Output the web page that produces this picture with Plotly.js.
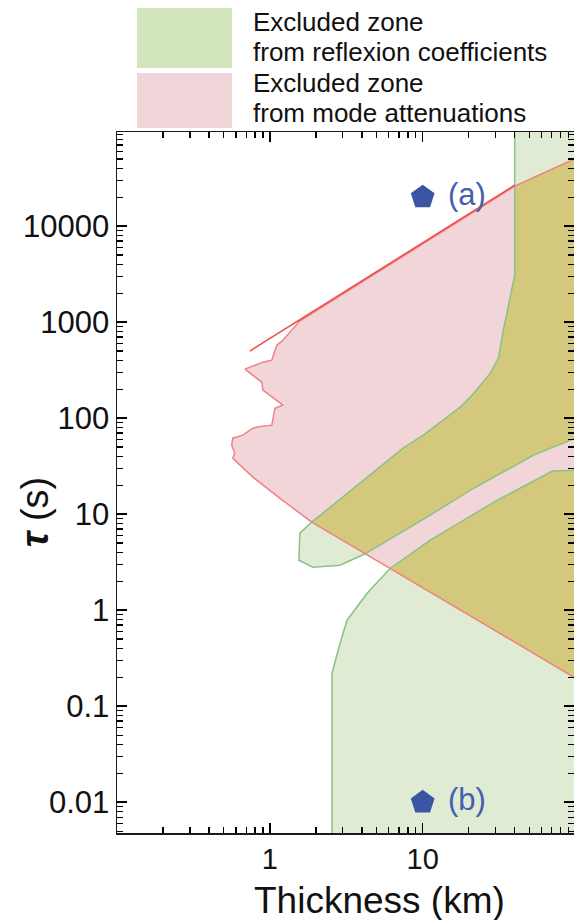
<!DOCTYPE html>
<html><head><meta charset="utf-8">
<script src="https://cdn.plot.ly/plotly-3.0.1.min.js"></script>
<style>html,body{margin:0;padding:0;background:#fff}#chart{width:574px;height:920px}</style>
</head><body><div id="chart"></div>
<script>
// ---- Data (thickness in km, tau in s) ----
// Excluded zone from reflexion coefficients: upper band
const reflexUpperThickness = [40, 40, 33.7, 31.3, 27.7, 21.1, 17.6, 10.1, 7.45, 1.88, 1.57, 1.55, 1.91, 2.88, 4.2, 11.2, 20.5, 53.1, 100, 100];
const reflexUpperTau       = [1e5, 3090, 826, 422, 294, 174, 130, 66.5, 48.7, 8.26, 6.34, 3.32, 2.81, 2.94, 3.87, 9.77, 17.8, 41.2, 62, 1e5];
// Excluded zone from reflexion coefficients: lower band
const reflexLowerThickness = [2.55, 2.55, 2.88, 3.2, 4.33, 6.12, 11.2, 30.8, 70.7, 100, 100];
const reflexLowerTau       = [0.001, 0.221, 0.453, 0.787, 1.5, 2.72, 5.36, 14.0, 28.1, 28.7, 0.001];
// Excluded zone from mode attenuations
const attenThickness = [0.686, 0.90, 1.03, 1.11, 1.2, 1.57, 40, 100, 100, 6.12, 4.2, 1.88, 1.16, 1.0, 0.774, 0.572, 0.589, 0.563, 0.572, 0.665, 0.774, 0.886, 1.03, 1.08, 1.22, 0.90, 0.886, 0.686];
const attenTau       = [324, 383, 402, 576, 634, 1025, 26100, 50700, 0.196, 2.72, 3.87, 8.26, 14.7, 17.8, 24.3, 38.3, 43.2, 52.3, 61.9, 66.5, 78.7, 82.6, 84.6, 127, 137, 196, 237, 324];
// Zones excluded by both criteria
const overlapUpperThickness = [40, 40, 33.7, 31.3, 27.7, 21.1, 17.6, 10.1, 7.45, 1.88, 4.2, 11.2, 20.5, 53.1, 100, 100, 40];
const overlapUpperTau       = [26100, 3090, 826, 422, 294, 174, 130, 66.5, 48.7, 8.26, 3.87, 9.77, 17.8, 41.2, 62, 50700, 26100];
const overlapLowerThickness = [6.12, 11.2, 30.8, 70.7, 100, 100, 6.12];
const overlapLowerTau       = [2.72, 5.36, 14.0, 28.1, 28.7, 0.196, 2.72];
// Upper bound line of the attenuation zone
const boundThickness = [0.74, 40];
const boundTau       = [500, 26700];
// Marked cases
const caseThickness = [10, 10];
const caseTau       = [20000, 0.01];
const caseLabels    = ['(a)', '(b)'];
// Tick labels
const xTickVals = [0.1, 1, 10, 100];
const xTickText = ['', '1', '10', ''];
const yTickVals = [0.01, 0.1, 1, 10, 100, 1000, 10000];
const yTickText = ['0.01', '0.1', '1', '10', '100', '1000', '10000'];
const legendLines = ['Excluded zone', 'from reflexion coefficients', 'Excluded zone', 'from mode attenuations'];

// ---- Styling ----
const PINK = '#f1d5d8', GREEN = '#dfecd3', OLIVE = '#d4c87c';
const PINK_EDGE = '#ef8282', GREEN_EDGE = '#88c288', RED = '#f04848', BLUE = '#3b55a5';
const FONT = 'Liberation Sans, Arial, sans-serif';
const X_RANGE = [-1.0, 1.99], Y_RANGE = [-2.32, 4.98];

function minorVals(lo, hi) {
  const v = [];
  for (let d = lo; d <= hi; d++) for (let m = 2; m <= 9; m++) v.push(m * Math.pow(10, d));
  return v;
}
function fillTrace(x, y, color) {
  return {x: x, y: y, type: 'scatter', mode: 'lines', fill: 'toself', fillcolor: color,
          line: {width: 0}, hoverinfo: 'skip', showlegend: false};
}
function edgeTrace(x, y, color) {
  return {x: x, y: y, type: 'scatter', mode: 'lines', line: {color: color, width: 1.5},
          hoverinfo: 'skip', showlegend: false};
}

const traces = [
  fillTrace(attenThickness, attenTau, PINK),
  fillTrace(reflexUpperThickness, reflexUpperTau, GREEN),
  fillTrace(reflexLowerThickness, reflexLowerTau, GREEN),
  fillTrace(overlapUpperThickness, overlapUpperTau, OLIVE),
  fillTrace(overlapLowerThickness, overlapLowerTau, OLIVE),
  edgeTrace(reflexUpperThickness, reflexUpperTau, GREEN_EDGE),
  edgeTrace(reflexLowerThickness, reflexLowerTau, GREEN_EDGE),
  edgeTrace(attenThickness, attenTau, PINK_EDGE),
  edgeTrace(boundThickness, boundTau, RED),
  {x: caseThickness, y: caseTau, text: caseLabels, texttemplate: '\u00a0%{text}', type: 'scatter', mode: 'markers+text',
   marker: {symbol: 'pentagon', size: 25, color: BLUE},
   textposition: 'middle right', textfont: {size: 31, color: '#4660b0', family: FONT},
   cliponaxis: false, hoverinfo: 'skip', showlegend: false},
  // empty trace that only carries the minor-tick axes
  {x: [], y: [], xaxis: 'x2', yaxis: 'y2', type: 'scatter', mode: 'lines', hoverinfo: 'skip', showlegend: false}
];

const axisCommon = {
  type: 'log', showline: true, linecolor: '#1a1a1a', linewidth: 1.5, mirror: 'allticks',
  ticks: 'inside', ticklen: 10, tickwidth: 1.6, tickcolor: '#000',
  showgrid: false, zeroline: false, tickmode: 'array'
};
const minorCommon = {
  type: 'log', showline: false, mirror: 'allticks', ticks: 'inside', ticklen: 6, tickwidth: 1.3,
  tickcolor: '#000', showticklabels: false, showgrid: false, zeroline: false, tickmode: 'array'
};

const layout = {
  width: 574, height: 920,
  margin: {l: 117, r: 0, t: 132, b: 87},
  showlegend: false,
  xaxis: Object.assign({}, axisCommon, {
    range: X_RANGE, tickvals: xTickVals, ticktext: xTickText,
    tickfont: {size: 29, family: FONT, color: '#111'}
  }),
  yaxis: Object.assign({}, axisCommon, {
    range: Y_RANGE, tickvals: yTickVals, ticktext: yTickText,
    tickfont: {size: 31, family: FONT, color: '#111'}
  }),
  xaxis2: Object.assign({}, minorCommon, {overlaying: 'x', anchor: 'y2', side: 'bottom', range: X_RANGE, tickvals: minorVals(-1, 1)}),
  yaxis2: Object.assign({}, minorCommon, {overlaying: 'y', anchor: 'x2', side: 'left', range: Y_RANGE, tickvals: minorVals(-3, 4)}),
  shapes: [
    {type: 'rect', xref: 'paper', yref: 'paper', x0: 0.0438, x1: 0.2516, y0: 1.0913, y1: 1.1769,
     fillcolor: '#d3e5bd', line: {width: 0}},
    {type: 'rect', xref: 'paper', yref: 'paper', x0: 0.0438, x1: 0.2516, y0: 1.0057, y1: 1.0842,
     fillcolor: '#efd5d7', line: {width: 0}}
  ],
  annotations: [
    {text: legendLines[0], xref: 'paper', yref: 'paper', x: 0.295, y: 1.1569, xanchor: 'left', yanchor: 'middle',
     showarrow: false, borderpad: 0, font: {size: 26, family: FONT, color: '#111'}},
    {text: legendLines[1], xref: 'paper', yref: 'paper', x: 0.295, y: 1.1141, xanchor: 'left', yanchor: 'middle',
     showarrow: false, borderpad: 0, font: {size: 26, family: FONT, color: '#111'}},
    {text: legendLines[2], xref: 'paper', yref: 'paper', x: 0.295, y: 1.0699, xanchor: 'left', yanchor: 'middle',
     showarrow: false, borderpad: 0, font: {size: 26, family: FONT, color: '#111'}},
    {text: legendLines[3], xref: 'paper', yref: 'paper', x: 0.295, y: 1.0271, xanchor: 'left', yanchor: 'middle',
     showarrow: false, borderpad: 0, font: {size: 26, family: FONT, color: '#111'}},
    {text: 'Thickness (km)', xref: 'paper', yref: 'paper', x: 0.575, y: -0.0956, xanchor: 'center', yanchor: 'middle',
     showarrow: false, font: {size: 37, family: FONT, color: '#111'}},
    {text: '<b><i>τ</i></b> (s)', xref: 'paper', yref: 'paper', x: -0.179, y: 0.458, xanchor: 'center', yanchor: 'middle',
     textangle: -90, showarrow: false, font: {size: 38, family: FONT, color: '#111'}}
  ]
};

Plotly.newPlot('chart', traces, layout, {staticPlot: true});
</script>
</body></html>
